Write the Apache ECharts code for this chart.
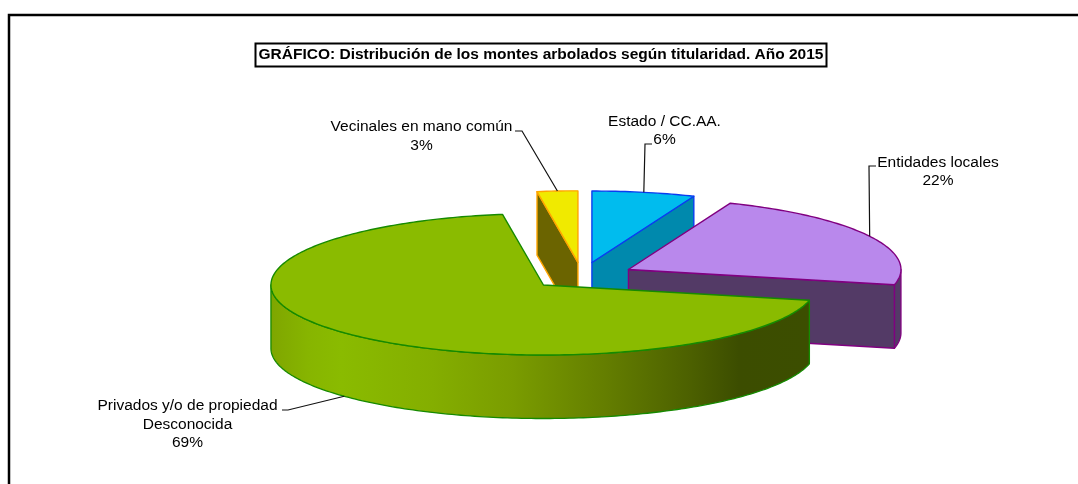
<!DOCTYPE html>
<html>
<head>
<meta charset="utf-8">
<style>html,body{margin:0;padding:0;background:#fff}#c{width:1078px;height:484px}</style>
<script src="https://cdn.jsdelivr.net/npm/echarts@6/dist/echarts.min.js"></script>
</head>
<body>
<div id="c"></div>
<script>
// Data, clockwise from the first slice
const titleText = 'GRÁFICO: Distribución de los montes arbolados según titularidad. Año 2015';
const categories = ['Vecinales en mano común', 'Estado / CC.AA.', 'Entidades locales', 'Privados y/o de propiedad\nDesconocida'];
const shares = [2.4, 6.1, 22.4, 69.1];
const percentLabels = ['3%', '6%', '22%', '69%'];

// Styles
const topColors = ['#F0EA00', '#00BCEE', '#B988EC', '#8ABB00'];
const wallColors = ['#6B6400', '#0089AD', '#533A66', '#8ABB00'];
const borderColors = ['#FFA500', '#0A3CF0', '#800080', '#168A00'];
const greenWallStops = [[0, '#7FA600'], [0.07, '#87B500'], [0.13, '#8ABB00'], [0.3, '#84AE00'], [0.45, '#7A9C00'], [0.62, '#647E00'], [0.78, '#4C6000'], [0.87, '#3C4D00'], [1, '#3C4E00']];

// Pie layout
const cx = 581.9, cy = 275.8, rx = 272.5, ryBack = 71.5, ryFront = 70, depth = 63.5, explode = 0.193, startAngle = -8.64;
const labelBoxes = [
  { x: 421.5, y: 127, from: [515, 131], elbow: [522, 131], inset: 0 },
  { x: 664.5, y: 121.5, from: [652, 144], elbow: [645, 144], inset: 0 },
  { x: 938, y: 162.5, from: [876, 166], elbow: [869, 166], inset: 0 },
  { x: 187.5, y: 406, from: [282, 410], elbow: [288, 410], inset: depth }
];

const total = shares.reduce((a, b) => a + b, 0);
const rad = d => d * Math.PI / 180;
function sliceAngles(i) {
  let a = startAngle;
  for (let k = 0; k < i; k++) a += shares[k] / total * 360;
  return [a, a + shares[i] / total * 360];
}
function renderSlice(params, api) {
  const i = params.dataIndex;
  const [a, b] = sliceAngles(i);
  const mid = (a + b) / 2;
  const ax = cx + explode * rx * Math.sin(rad(mid));
  const ay = cy - explode * ryFront * Math.cos(rad(mid));
  const rim = t => {
    const c = Math.cos(rad(t));
    return [ax + rx * Math.sin(rad(t)), ay - (c > 0 ? ryBack : ryFront) * c];
  };
  const down = p => [p[0], p[1] + depth];
  const children = [];
  const face = (points, fill, lw) => children.push({
    type: 'polygon', shape: { points },
    style: { fill, stroke: borderColors[i], lineWidth: lw, lineJoin: 'round' }
  });
  const arc = (s, e) => {
    const pts = [];
    for (let t = s; t < e; t += 1) pts.push(rim(t));
    pts.push(rim(e));
    return pts;
  };
  // outer wall: the part of the rim that faces the viewer
  const ws = Math.max(a, 90), we = Math.min(b, 270);
  if (we > ws) {
    const upper = arc(ws, we);
    const lower = upper.map(down).reverse();
    const fill = i === 3
      ? new echarts.graphic.LinearGradient(271, 0, 809, 0, greenWallStops.map(s => ({ offset: s[0], color: s[1] })), true)
      : wallColors[i];
    face(upper.concat(lower), fill, 1.3);
  }
  // cut faces
  if (Math.sin(rad(a)) < -1e-3) face([[ax, ay], rim(a), down(rim(a)), [ax, ay + depth]], wallColors[i], 1.4);
  if (Math.sin(rad(b)) > 1e-3) face([[ax, ay], rim(b), down(rim(b)), [ax, ay + depth]], wallColors[i], 1.4);
  // top
  face([[ax, ay]].concat(arc(a, b)), topColors[i], 1.4);
  // leader + label
  const L = labelBoxes[i];
  const hit = rim(mid);
  children.push({
    type: 'polyline',
    shape: { points: [L.from, L.elbow, [hit[0], hit[1] + L.inset]] },
    style: { fill: null, stroke: '#111', lineWidth: 1.2 }
  });
  children.push({
    type: 'text',
    style: {
      x: L.x, y: L.y, text: categories[i] + '\n' + percentLabels[i],
      align: 'center', verticalAlign: 'top',
      font: '15.5px "Liberation Sans", Arial, sans-serif', lineHeight: 18.2, fill: '#000'
    },
    y: -9
  });
  return { type: 'group', children };
}

const chart = echarts.init(document.getElementById('c'), null, { renderer: 'canvas' });
chart.setOption({
  animation: false,
  backgroundColor: '#fff',
  title: {
    text: titleText, left: 255.5, top: 43.5,
    padding: [3, 3, 3, 3],
    borderColor: '#000', borderWidth: 2,
    textStyle: { fontFamily: '"Liberation Sans", Arial, sans-serif', fontWeight: 'bold', fontSize: 15.5, color: '#000', lineHeight: 17 }
  },
  graphic: [{
    type: 'polyline', silent: true,
    shape: { points: [[9, 484], [9, 15], [1078, 15]] },
    style: { fill: null, stroke: '#000', lineWidth: 2.5 }
  }],
  series: [{
    type: 'custom', coordinateSystem: 'none', silent: true, clip: false,
    renderItem: renderSlice,
    data: categories.map((name, i) => ({ name, value: [shares[i]] }))
  }]
});
</script>
</body>
</html>
